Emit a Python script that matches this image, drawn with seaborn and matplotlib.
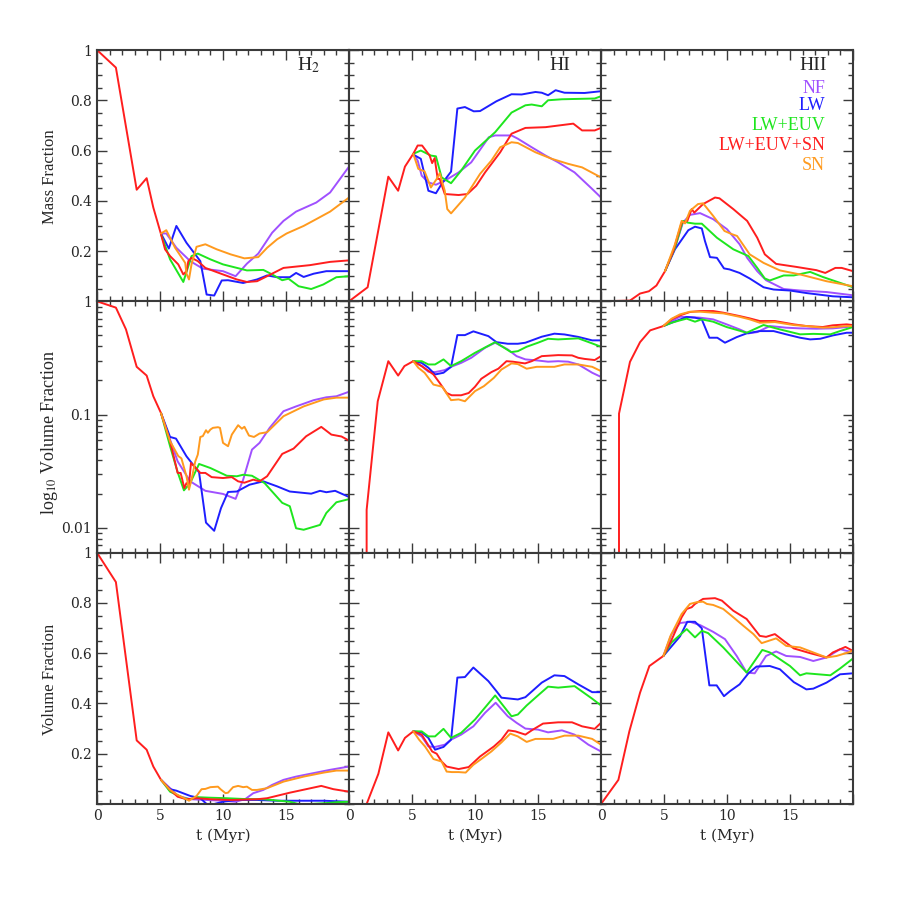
import numpy as np
import pandas as pd
import matplotlib
matplotlib.use("Agg")
import matplotlib.pyplot as plt
import seaborn as sns
from matplotlib.ticker import MultipleLocator, FixedLocator, FixedFormatter, LogLocator, NullFormatter

# ---------------- data ----------------
series_names = ["NF", "LW", "LW+EUV", "LW+EUV+SN", "SN"]
series_colors = ["#A050FF", "#1E1EFF", "#1EE61E", "#FF1E1E", "#FF9A1E"]
row_labels = ["Mass Fraction", "log$_{10}$ Volume Fraction", "Volume Fraction"]
col_labels = ["H$_2$", "HI", "HII"]
x_ticklabels = ["0", "5", "10", "15"]
lin_ticklabels = ["0.2", "0.4", "0.6", "0.8", "1"]
log_ticklabels = ["0.01", "0.1", "1"]

# ---- Mass fraction, H2 ----
mH2_NF_t = [5.08, 5.5, 6.3, 7.4, 8.4, 10.0, 11.0, 11.9, 12.8, 13.9, 14.8, 15.8, 17.4, 18.5, 20]
mH2_NF_v = [0.27, 0.27, 0.213, 0.16, 0.13, 0.12, 0.1, 0.15, 0.19, 0.273, 0.32, 0.357, 0.393, 0.433, 0.536]
mH2_LW_t = [5.08, 5.7, 6.3, 7.1, 8.2, 8.7, 9.3, 9.9, 10.4, 11.6, 12.7, 13.5, 14.3, 15.3, 15.8, 16.4, 17.2, 18.2, 20]
mH2_LW_v = [0.27, 0.21, 0.30, 0.233, 0.16, 0.027, 0.023, 0.083, 0.084, 0.073, 0.087, 0.103, 0.096, 0.096, 0.113, 0.097, 0.11, 0.12, 0.12]
mH2_EUV_t = [5.08, 5.8, 6.85, 7.5, 8.0, 9.0, 10.0, 11.9, 13.2, 13.9, 14.7, 15.2, 16.0, 17.0, 17.96, 19.0, 20]
mH2_EUV_v = [0.267, 0.167, 0.077, 0.18, 0.19, 0.167, 0.147, 0.123, 0.125, 0.107, 0.084, 0.09, 0.06, 0.049, 0.067, 0.096, 0.1]
mH2_SNall_t = [0, 1.5, 3.15, 3.94, 4.47, 5.08, 5.4, 5.8, 6.45, 6.85, 7.1, 7.25, 7.5, 8.0, 8.6, 10.0, 11.1, 11.9, 12.7, 13.5, 14.8, 16.9, 18.5, 20]
mH2_SNall_v = [1.0, 0.93, 0.444, 0.49, 0.373, 0.267, 0.207, 0.18, 0.147, 0.107, 0.12, 0.16, 0.173, 0.16, 0.133, 0.107, 0.087, 0.077, 0.08, 0.1, 0.133, 0.144, 0.157, 0.163]
mH2_SN_t = [5.08, 5.5, 6.2, 7.0, 7.1, 7.3, 7.5, 7.9, 8.6, 9.5, 10.6, 11.7, 12.8, 13.5, 14.3, 15.05, 16.4, 17.4, 18.5, 20]
mH2_SN_v = [0.27, 0.283, 0.213, 0.153, 0.11, 0.087, 0.147, 0.217, 0.227, 0.207, 0.187, 0.171, 0.176, 0.213, 0.247, 0.27, 0.30, 0.327, 0.357, 0.413]

# ---- Mass fraction, HI ----
mHI_NF_t = [5.1, 5.45, 5.77, 6.3, 6.9, 7.6, 8.7, 9.7, 11.1, 11.6, 12.9, 13.4, 14.5, 15.6, 16.6, 17.9, 19.3, 20]
mHI_NF_v = [0.587, 0.56, 0.5, 0.473, 0.464, 0.48, 0.513, 0.553, 0.653, 0.66, 0.66, 0.647, 0.613, 0.58, 0.553, 0.513, 0.447, 0.413]
mHI_LW_t = [5.1, 5.7, 6.3, 6.9, 7.35, 8.1, 8.6, 9.2, 9.9, 10.4, 11.7, 12.9, 13.7, 14.8, 15.3, 15.8, 16.4, 17.1, 18.7, 20]
mHI_LW_v = [0.584, 0.567, 0.44, 0.43, 0.467, 0.516, 0.767, 0.773, 0.756, 0.757, 0.796, 0.824, 0.823, 0.833, 0.83, 0.82, 0.84, 0.83, 0.829, 0.836]
mHI_EUV_t = [5.1, 5.7, 6.5, 6.9, 7.35, 8.1, 8.9, 10.0, 11.6, 12.9, 14.0, 14.5, 15.3, 15.8, 16.9, 19.5, 20]
mHI_EUV_v = [0.587, 0.6, 0.58, 0.577, 0.493, 0.47, 0.52, 0.6, 0.673, 0.751, 0.78, 0.783, 0.776, 0.8, 0.804, 0.807, 0.816]
mHI_SNall_t = [0, 1.48, 3.12, 3.9, 4.44, 5.1, 5.45, 5.8, 6.4, 6.6, 6.8, 7.04, 7.2, 7.6, 8.7, 9.4, 10.1, 10.8, 12.0, 12.9, 14.0, 15.6, 17.8, 18.5, 19.5, 20]
mHI_SNall_v = [0.0, 0.056, 0.496, 0.44, 0.536, 0.587, 0.62, 0.62, 0.58, 0.55, 0.57, 0.487, 0.487, 0.427, 0.423, 0.427, 0.46, 0.513, 0.593, 0.667, 0.69, 0.693, 0.707, 0.68, 0.68, 0.69]
mHI_SN_t = [5.1, 5.5, 6.0, 6.5, 6.96, 7.2, 7.6, 7.8, 8.1, 9.2, 10.4, 11.3, 12.0, 12.9, 13.4, 14.8, 16.1, 17.4, 18.5, 20]
mHI_SN_v = [0.587, 0.527, 0.517, 0.453, 0.487, 0.51, 0.44, 0.367, 0.35, 0.413, 0.507, 0.56, 0.613, 0.633, 0.63, 0.593, 0.567, 0.547, 0.533, 0.493]

# ---- Mass fraction, HII ----
mHII_NF_t = [5.08, 5.87, 6.5, 7.06, 7.86, 8.9, 10.0, 11.0, 11.6, 12.4, 13.1, 14.5, 15.8, 17.9, 20]
mHII_NF_v = [0.12, 0.213, 0.313, 0.344, 0.351, 0.327, 0.287, 0.227, 0.173, 0.12, 0.084, 0.049, 0.043, 0.037, 0.024]
mHII_LW_t = [5.08, 5.87, 6.93, 7.46, 8.0, 8.25, 8.65, 9.2, 9.76, 10.2, 11.0, 11.8, 12.9, 13.7, 15.0, 16.3, 18.4, 20]
mHII_LW_v = [0.12, 0.207, 0.283, 0.297, 0.29, 0.24, 0.176, 0.173, 0.131, 0.127, 0.113, 0.091, 0.056, 0.047, 0.043, 0.033, 0.02, 0.016]
mHII_EUV_t = [5.08, 5.87, 6.5, 6.9, 7.46, 8.0, 9.2, 10.5, 11.7, 12.4, 13.0, 13.4, 14.5, 15.3, 16.6, 17.6, 20]
mHII_EUV_v = [0.12, 0.213, 0.32, 0.313, 0.309, 0.309, 0.253, 0.207, 0.18, 0.133, 0.091, 0.083, 0.103, 0.103, 0.117, 0.097, 0.056]
mHII_SNall_t = [0, 2.3, 3.1, 3.8, 4.4, 5.08, 5.74, 6.4, 6.85, 7.2, 7.4, 8.1, 9.05, 9.4, 10.5, 11.6, 12.4, 13.0, 13.9, 14.7, 15.5, 17.1, 17.8, 18.6, 19.1, 20]
mHII_SNall_v = [0.0, 0.003, 0.031, 0.04, 0.063, 0.12, 0.2, 0.313, 0.32, 0.367, 0.353, 0.387, 0.413, 0.41, 0.367, 0.32, 0.253, 0.187, 0.149, 0.143, 0.137, 0.124, 0.113, 0.133, 0.133, 0.12]
mHII_SN_t = [5.08, 5.87, 6.4, 6.67, 7.06, 7.7, 8.1, 8.9, 9.8, 10.4, 10.8, 11.8, 12.9, 14.2, 15.8, 17.9, 20]
mHII_SN_v = [0.12, 0.227, 0.32, 0.31, 0.36, 0.387, 0.39, 0.34, 0.28, 0.267, 0.26, 0.187, 0.153, 0.123, 0.107, 0.08, 0.06]

# ---- log Volume fraction, H2 ----
lH2_NF_t = [5.08, 5.8, 6.4, 7.4, 8.6, 10.0, 11.0, 11.6, 12.3, 12.9, 13.7, 14.8, 15.8, 17.2, 18.2, 19.0, 20]
lH2_NF_v = [0.103, 0.06, 0.0386, 0.0257, 0.0212, 0.0199, 0.018, 0.0266, 0.049, 0.0562, 0.0762, 0.107, 0.118, 0.134, 0.142, 0.145, 0.159]
lH2_LW_t = [5.08, 5.8, 6.27, 7.1, 8.1, 8.65, 9.3, 9.84, 10.4, 11.1, 12.1, 13.2, 14.3, 15.3, 17.0, 17.7, 18.2, 18.9, 20]
lH2_LW_v = [0.103, 0.0634, 0.0613, 0.0428, 0.0309, 0.0111, 0.0094, 0.0149, 0.0207, 0.0209, 0.024, 0.0257, 0.0232, 0.0209, 0.02, 0.0212, 0.0206, 0.0212, 0.0187]
lH2_EUV_t = [5.08, 5.8, 6.4, 6.9, 7.4, 7.7, 8.1, 9.0, 10.3, 11.1, 11.6, 12.3, 13.3, 14.7, 15.3, 15.8, 16.4, 17.7, 18.2, 19.0, 20]
lH2_EUV_v = [0.103, 0.0525, 0.031, 0.0214, 0.0248, 0.0294, 0.0366, 0.0337, 0.0288, 0.0285, 0.0294, 0.0288, 0.0248, 0.0166, 0.0155, 0.0099, 0.0096, 0.0106, 0.0135, 0.0168, 0.0179]
lH2_SNall_t = [0, 1.5, 2.3, 3.15, 3.94, 4.47, 5.08, 5.8, 6.4, 6.64, 6.93, 7.1, 7.3, 7.46, 7.6, 8.2, 8.6, 9.1, 10.0, 10.7, 11.2, 11.7, 12.4, 12.9, 13.5, 14.7, 15.6, 16.6, 17.8, 18.6, 19.4, 20]
lH2_SNall_v = [1.0, 0.88, 0.565, 0.264, 0.221, 0.145, 0.103, 0.058, 0.0305, 0.0305, 0.0224, 0.0248, 0.024, 0.0373, 0.036, 0.0305, 0.0305, 0.028, 0.0275, 0.028, 0.0257, 0.025, 0.0266, 0.0257, 0.0285, 0.0449, 0.05, 0.0643, 0.0778, 0.0665, 0.064, 0.0589]
lH2_SN_t = [5.08, 5.8, 6.45, 6.7, 7.1, 7.3, 7.5, 7.8, 8.0, 8.2, 8.4, 8.65, 8.8, 9.0, 9.2, 9.6, 9.76, 10.0, 10.4, 10.7, 11.2, 11.5, 11.7, 12.06, 12.46, 12.9, 13.5, 14.8, 16.4, 18.0, 19.0, 20]
lH2_SN_v = [0.103, 0.058, 0.043, 0.041, 0.0285, 0.0217, 0.0266, 0.0386, 0.0443, 0.0634, 0.0645, 0.0727, 0.069, 0.0737, 0.0763, 0.0773, 0.0763, 0.0562, 0.0525, 0.0665, 0.0805, 0.075, 0.078, 0.0652, 0.0634, 0.068, 0.0698, 0.0967, 0.118, 0.136, 0.141, 0.141]

# ---- log Volume fraction, HI ----
lHI_NF_t = [5.1, 5.77, 6.3, 6.83, 7.6, 8.1, 8.9, 9.7, 10.8, 11.6, 12.6, 13.3, 14.0, 15.0, 15.8, 16.6, 17.4, 18.2, 19.3, 20]
lHI_NF_v = [0.296, 0.268, 0.239, 0.237, 0.247, 0.264, 0.286, 0.317, 0.389, 0.431, 0.376, 0.328, 0.307, 0.3, 0.293, 0.296, 0.293, 0.277, 0.234, 0.215]
lHI_LW_t = [5.1, 5.77, 6.3, 6.83, 7.5, 8.1, 8.6, 9.2, 9.87, 11.06, 11.7, 12.6, 13.4, 14.0, 15.3, 16.3, 17.1, 18.2, 19.3, 20]
lHI_LW_v = [0.296, 0.286, 0.259, 0.226, 0.234, 0.264, 0.503, 0.503, 0.543, 0.493, 0.436, 0.422, 0.422, 0.431, 0.487, 0.518, 0.51, 0.485, 0.452, 0.452]
lHI_EUV_t = [5.1, 5.77, 6.3, 6.83, 7.5, 8.1, 8.9, 10.0, 11.6, 12.86, 13.4, 14.1, 15.0, 15.8, 16.6, 18.2, 19.3, 20]
lHI_EUV_v = [0.296, 0.296, 0.277, 0.277, 0.307, 0.268, 0.296, 0.351, 0.436, 0.356, 0.363, 0.397, 0.431, 0.467, 0.461, 0.471, 0.425, 0.397]
lHI_SNall_t = [0, 1.4, 2.28, 3.12, 3.9, 4.4, 5.1, 5.77, 6.7, 7.2, 7.75, 8.15, 8.9, 9.5, 10.0, 10.5, 11.3, 11.85, 12.5, 13.0, 13.97, 14.5, 15.3, 16.6, 17.7, 18.2, 18.7, 19.5, 20]
lHI_SNall_v = [0.0, 0.0144, 0.131, 0.296, 0.221, 0.268, 0.296, 0.268, 0.226, 0.19, 0.155, 0.148, 0.148, 0.155, 0.176, 0.207, 0.237, 0.254, 0.296, 0.293, 0.283, 0.296, 0.328, 0.335, 0.333, 0.317, 0.31, 0.303, 0.328]
lHI_SN_t = [5.1, 5.5, 6.0, 6.7, 7.4, 7.75, 8.1, 8.7, 9.2, 10.0, 10.7, 11.5, 12.1, 12.9, 13.4, 14.1, 14.9, 16.3, 17.1, 18.2, 19.3, 20]
lHI_SN_v = [0.296, 0.259, 0.234, 0.184, 0.176, 0.153, 0.134, 0.136, 0.131, 0.161, 0.178, 0.211, 0.25, 0.283, 0.279, 0.254, 0.264, 0.264, 0.277, 0.277, 0.264, 0.242]

# ---- log Volume fraction, HII ----
lHII_NF_t = [4.95, 5.6, 6.27, 7.06, 7.86, 8.9, 9.97, 11.0, 11.7, 12.4, 13.4, 14.7, 15.8, 17.1, 18.4, 19.5, 20]
lHII_NF_v = [0.605, 0.67, 0.731, 0.726, 0.717, 0.693, 0.626, 0.565, 0.521, 0.535, 0.605, 0.585, 0.577, 0.573, 0.577, 0.593, 0.605]
lHII_LW_t = [4.95, 5.74, 6.8, 7.46, 8.0, 8.6, 9.23, 9.84, 10.77, 11.56, 12.6, 13.7, 14.7, 15.8, 16.6, 17.4, 18.4, 19.5, 20]
lHII_LW_v = [0.605, 0.656, 0.727, 0.717, 0.693, 0.477, 0.477, 0.431, 0.483, 0.521, 0.546, 0.546, 0.511, 0.477, 0.461, 0.467, 0.5, 0.528, 0.528]
lHII_EUV_t = [4.95, 5.6, 6.27, 6.8, 7.46, 8.0, 8.9, 9.97, 11.56, 12.9, 14.2, 15.8, 16.85, 18.2, 18.97, 20]
lHII_EUV_v = [0.605, 0.647, 0.679, 0.703, 0.661, 0.693, 0.661, 0.593, 0.528, 0.618, 0.565, 0.511, 0.516, 0.511, 0.546, 0.593]
lHII_SNall_t = [0, 1.43, 2.3, 3.1, 3.9, 4.95, 5.6, 6.27, 7.06, 7.86, 8.9, 9.7, 11.0, 11.8, 12.6, 13.8, 15.3, 16.3, 17.6, 18.4, 19.5, 20]
lHII_SNall_v = [0.0, 0.102, 0.292, 0.436, 0.554, 0.605, 0.693, 0.752, 0.805, 0.821, 0.821, 0.794, 0.741, 0.707, 0.67, 0.67, 0.626, 0.605, 0.593, 0.614, 0.626, 0.617]
lHII_SN_t = [4.95, 5.6, 6.27, 7.06, 7.86, 8.9, 9.7, 11.0, 11.8, 12.6, 13.8, 15.3, 16.3, 17.6, 18.4, 19.5, 20]
lHII_SN_v = [0.605, 0.702, 0.767, 0.81, 0.81, 0.794, 0.783, 0.73, 0.693, 0.647, 0.656, 0.617, 0.605, 0.585, 0.59, 0.605, 0.605]

# ---- Volume fraction, H2 ----
vH2_NF_t = [5.08, 5.8, 6.4, 7.4, 8.7, 10.0, 11.0, 11.75, 12.4, 13.2, 13.9, 14.8, 15.8, 17.4, 18.5, 20]
vH2_NF_v = [0.096, 0.063, 0.033, 0.019, 0.016, 0.013, 0.009, 0.019, 0.043, 0.056, 0.076, 0.096, 0.109, 0.125, 0.136, 0.149]
vH2_LW_t = [5.08, 5.8, 6.3, 7.4, 8.2, 8.7, 9.3, 10.0, 11.1, 12.7, 14.3, 15.3, 18.0, 20]
vH2_LW_v = [0.096, 0.059, 0.053, 0.032, 0.023, 0.0, 0.0, 0.009, 0.016, 0.016, 0.013, 0.013, 0.013, 0.009]
vH2_EUV_t = [5.08, 5.8, 6.9, 7.4, 8.0, 9.0, 10.3, 11.6, 13.2, 15.3, 16.0, 16.9, 18.0, 19.0, 20]
vH2_EUV_v = [0.096, 0.049, 0.023, 0.019, 0.027, 0.025, 0.023, 0.02, 0.019, 0.009, 0.0, 0.0, 0.003, 0.007, 0.009]
vH2_SNall_t = [0, 1.5, 3.15, 3.94, 4.47, 5.08, 5.8, 6.4, 7.1, 7.9, 9.0, 10.6, 12.7, 13.5, 15.3, 16.6, 17.8, 18.76, 20]
vH2_SNall_v = [1.0, 0.883, 0.253, 0.216, 0.149, 0.096, 0.056, 0.029, 0.019, 0.023, 0.019, 0.016, 0.019, 0.023, 0.045, 0.059, 0.072, 0.059, 0.049]
vH2_SN_t = [5.08, 5.8, 6.4, 7.1, 7.3, 7.6, 7.9, 8.3, 8.6, 9.0, 9.6, 9.8, 10.2, 10.4, 10.8, 11.2, 11.6, 11.9, 12.3, 12.7, 13.5, 14.8, 16.4, 18.0, 19.0, 20]
vH2_SN_v = [0.096, 0.056, 0.036, 0.019, 0.013, 0.023, 0.032, 0.059, 0.06, 0.067, 0.069, 0.059, 0.043, 0.045, 0.067, 0.072, 0.067, 0.069, 0.056, 0.056, 0.063, 0.089, 0.109, 0.125, 0.133, 0.133]

# ---- Volume fraction, HI ----
vHI_NF_t = [5.1, 5.77, 6.3, 6.83, 7.6, 8.1, 8.9, 9.87, 10.8, 11.64, 12.6, 13.3, 14.0, 15.0, 15.8, 16.9, 17.9, 19.0, 20]
vHI_NF_v = [0.289, 0.269, 0.229, 0.227, 0.236, 0.256, 0.276, 0.309, 0.363, 0.403, 0.349, 0.323, 0.3, 0.296, 0.285, 0.293, 0.276, 0.236, 0.209]
vHI_LW_t = [5.1, 5.77, 6.3, 6.83, 7.5, 8.1, 8.6, 9.2, 9.87, 11.06, 11.7, 12.1, 13.4, 14.0, 15.3, 16.3, 17.1, 18.2, 19.3, 20]
vHI_LW_v = [0.289, 0.285, 0.263, 0.216, 0.227, 0.256, 0.503, 0.505, 0.543, 0.489, 0.449, 0.423, 0.416, 0.425, 0.483, 0.512, 0.509, 0.476, 0.445, 0.445]
vHI_EUV_t = [5.1, 5.77, 6.3, 6.83, 7.5, 8.1, 8.9, 10.0, 11.6, 12.9, 13.4, 14.1, 15.0, 15.8, 16.6, 17.9, 19.3, 20]
vHI_EUV_v = [0.289, 0.289, 0.269, 0.269, 0.299, 0.263, 0.283, 0.336, 0.432, 0.349, 0.356, 0.392, 0.432, 0.467, 0.463, 0.469, 0.419, 0.392]
vHI_SNall_t = [0, 1.4, 2.33, 3.12, 3.9, 4.44, 5.1, 5.77, 6.6, 6.96, 7.35, 7.75, 8.7, 9.5, 10.4, 11.5, 12.1, 12.65, 13.2, 14.0, 14.5, 15.4, 16.6, 17.7, 18.5, 19.5, 20]
vHI_SNall_v = [0.0, 0.0, 0.12, 0.285, 0.213, 0.263, 0.289, 0.276, 0.209, 0.2, 0.169, 0.149, 0.139, 0.147, 0.189, 0.229, 0.256, 0.293, 0.289, 0.276, 0.293, 0.32, 0.325, 0.325, 0.309, 0.299, 0.323]
vHI_SN_t = [5.1, 5.56, 6.03, 6.7, 7.35, 7.75, 8.15, 8.7, 9.26, 9.87, 10.5, 11.3, 12.1, 12.8, 13.4, 14.1, 14.8, 16.2, 17.1, 18.2, 19.3, 20]
vHI_SN_v = [0.289, 0.256, 0.229, 0.179, 0.169, 0.129, 0.127, 0.127, 0.125, 0.156, 0.179, 0.209, 0.245, 0.28, 0.269, 0.247, 0.259, 0.259, 0.272, 0.272, 0.259, 0.236]

# ---- Volume fraction, HII ----
vHII_NF_t = [4.95, 5.6, 6.27, 7.06, 7.86, 8.9, 9.84, 10.77, 11.56, 12.2, 13.1, 13.9, 14.7, 15.8, 16.85, 17.9, 18.97, 20]
vHII_NF_v = [0.589, 0.676, 0.72, 0.725, 0.712, 0.685, 0.656, 0.589, 0.523, 0.52, 0.589, 0.607, 0.589, 0.585, 0.569, 0.583, 0.616, 0.603]
vHII_LW_t = [4.95, 6.27, 6.85, 7.46, 8.0, 8.6, 9.18, 9.76, 10.24, 11.0, 11.7, 12.35, 13.4, 14.2, 15.3, 16.3, 16.85, 17.9, 18.97, 20]
vHII_LW_v = [0.589, 0.667, 0.725, 0.725, 0.699, 0.472, 0.472, 0.429, 0.449, 0.476, 0.52, 0.547, 0.549, 0.536, 0.485, 0.456, 0.459, 0.483, 0.516, 0.52]
vHII_EUV_t = [4.95, 5.6, 6.8, 7.46, 8.0, 8.5, 9.7, 11.56, 12.8, 13.4, 14.2, 15.0, 15.8, 16.3, 18.2, 18.97, 20]
vHII_EUV_v = [0.589, 0.643, 0.696, 0.663, 0.689, 0.68, 0.623, 0.523, 0.613, 0.603, 0.576, 0.549, 0.512, 0.52, 0.512, 0.539, 0.579]
vHII_SNall_t = [0, 1.38, 2.25, 3.1, 3.84, 4.95, 5.6, 6.4, 6.8, 7.2, 7.46, 8.1, 9.05, 9.6, 10.5, 11.56, 12.6, 13.1, 13.8, 14.5, 15.3, 16.6, 17.9, 18.4, 19.4, 20]
vHII_SNall_v = [0.0, 0.096, 0.289, 0.443, 0.549, 0.589, 0.653, 0.743, 0.776, 0.783, 0.796, 0.816, 0.819, 0.809, 0.769, 0.736, 0.669, 0.665, 0.676, 0.649, 0.619, 0.6, 0.583, 0.603, 0.625, 0.609]
vHII_SN_t = [4.95, 5.5, 6.4, 7.06, 7.6, 8.1, 8.4, 8.9, 9.7, 10.5, 11.3, 12.1, 12.75, 13.9, 14.7, 15.8, 16.85, 17.9, 18.7, 20]
vHII_SN_v = [0.589, 0.667, 0.756, 0.796, 0.803, 0.805, 0.796, 0.792, 0.776, 0.743, 0.709, 0.676, 0.64, 0.659, 0.629, 0.623, 0.603, 0.583, 0.589, 0.609]

panels = [
    [[(mH2_NF_t, mH2_NF_v), (mH2_LW_t, mH2_LW_v), (mH2_EUV_t, mH2_EUV_v), (mH2_SNall_t, mH2_SNall_v), (mH2_SN_t, mH2_SN_v)],
     [(mHI_NF_t, mHI_NF_v), (mHI_LW_t, mHI_LW_v), (mHI_EUV_t, mHI_EUV_v), (mHI_SNall_t, mHI_SNall_v), (mHI_SN_t, mHI_SN_v)],
     [(mHII_NF_t, mHII_NF_v), (mHII_LW_t, mHII_LW_v), (mHII_EUV_t, mHII_EUV_v), (mHII_SNall_t, mHII_SNall_v), (mHII_SN_t, mHII_SN_v)]],
    [[(lH2_NF_t, lH2_NF_v), (lH2_LW_t, lH2_LW_v), (lH2_EUV_t, lH2_EUV_v), (lH2_SNall_t, lH2_SNall_v), (lH2_SN_t, lH2_SN_v)],
     [(lHI_NF_t, lHI_NF_v), (lHI_LW_t, lHI_LW_v), (lHI_EUV_t, lHI_EUV_v), (lHI_SNall_t, lHI_SNall_v), (lHI_SN_t, lHI_SN_v)],
     [(lHII_NF_t, lHII_NF_v), (lHII_LW_t, lHII_LW_v), (lHII_EUV_t, lHII_EUV_v), (lHII_SNall_t, lHII_SNall_v), (lHII_SN_t, lHII_SN_v)]],
    [[(vH2_NF_t, vH2_NF_v), (vH2_LW_t, vH2_LW_v), (vH2_EUV_t, vH2_EUV_v), (vH2_SNall_t, vH2_SNall_v), (vH2_SN_t, vH2_SN_v)],
     [(vHI_NF_t, vHI_NF_v), (vHI_LW_t, vHI_LW_v), (vHI_EUV_t, vHI_EUV_v), (vHI_SNall_t, vHI_SNall_v), (vHI_SN_t, vHI_SN_v)],
     [(vHII_NF_t, vHII_NF_v), (vHII_LW_t, vHII_LW_v), (vHII_EUV_t, vHII_EUV_v), (vHII_SNall_t, vHII_SNall_v), (vHII_SN_t, vHII_SN_v)]],
]

# ---------------- style ----------------
sns.set_theme(style="ticks")
plt.rcParams["font.family"] = ["Liberation Serif", "DejaVu Serif"]
plt.rcParams["mathtext.fontset"] = "stix"
SPINE = "#3a3a3a"

fig, axes = plt.subplots(3, 3, figsize=(9, 9), dpi=100)
fig.subplots_adjust(left=97/900, right=853/900, top=1-50/900, bottom=1-804/900,
                    wspace=0, hspace=0)

for r in range(3):
    for c in range(3):
        ax = axes[r, c]
        for (t, v), col in zip(panels[r][c], series_colors):
            df = pd.DataFrame({"t": t, "v": v})
            sns.lineplot(data=df, x="t", y="v", ax=ax, color=col, lw=1.4,
                         sort=False, estimator=None, legend=False)
        ax.set_xlim(0, 20)
        ax.xaxis.set_major_locator(FixedLocator([0, 5, 10, 15, 20]))
        ax.xaxis.set_minor_locator(MultipleLocator(1))
        if r == 1:
            ax.set_yscale("log")
            ax.set_ylim(10**-2.22, 1)
            ax.yaxis.set_major_locator(FixedLocator([0.01, 0.1, 1]))
            ax.yaxis.set_minor_locator(LogLocator(base=10, subs=np.arange(2, 10)))
            ax.yaxis.set_minor_formatter(NullFormatter())
            ax.yaxis.set_major_formatter(FixedFormatter(log_ticklabels))
        else:
            ax.set_ylim(0, 1)
            ax.yaxis.set_major_locator(FixedLocator([0.2, 0.4, 0.6, 0.8, 1.0]))
            ax.yaxis.set_minor_locator(MultipleLocator(0.05))
            ax.yaxis.set_major_formatter(FixedFormatter(lin_ticklabels))
        ax.xaxis.set_major_formatter(FixedFormatter(x_ticklabels + [""]))
        ax.set_xlabel("")
        ax.set_ylabel("")
        ax.tick_params(which="both", direction="in", top=True, right=True,
                       color=SPINE, width=1.0)
        ax.tick_params(which="major", length=7)
        ax.tick_params(which="minor", length=3.8)
        ax.tick_params(labelsize=10)
        for lab in ax.get_xticklabels() + ax.get_yticklabels():
            lab.set_family("DejaVu Serif")
        if c != 0:
            ax.tick_params(labelleft=False)
        if r != 2:
            ax.tick_params(labelbottom=False)
        for s in ax.spines.values():
            s.set_color(SPINE)
            s.set_linewidth(1.5)
        ax.set_facecolor("white")

# species labels
axes[0, 0].text(0.885, 0.92, col_labels[0], transform=axes[0, 0].transAxes,
                ha="right", va="baseline", fontsize=14)
axes[0, 1].text(0.877, 0.92, col_labels[1], transform=axes[0, 1].transAxes,
                ha="right", va="baseline", fontsize=14)
axes[0, 2].text(0.897, 0.92, col_labels[2], transform=axes[0, 2].transAxes,
                ha="right", va="baseline", fontsize=14)

# legend as coloured text
leg_y = [92.7, 110, 130, 150, 170]
for name, col, yy in zip(series_names, series_colors, leg_y):
    axes[0, 2].text(0.889, 1 - (yy - 50) / 251, name, color=col,
                    transform=axes[0, 2].transAxes, ha="right", va="baseline",
                    fontsize=13)

# row labels
for r, (lab, yc, fs) in enumerate(zip(row_labels, [177, 432, 679], [12, 13, 12])):
    fig.text(50/900, 1 - yc/900, lab, rotation=90, ha="center", va="center",
             fontsize=fs)

# column x labels
for c in range(3):
    xc = (97 + 252 * c + 126) / 900
    fig.text(xc, 1 - 836/900, "t (Myr)", ha="center", va="center", fontsize=11,
             family="DejaVu Serif")

fig.savefig("out.png", dpi=100, facecolor="white")
